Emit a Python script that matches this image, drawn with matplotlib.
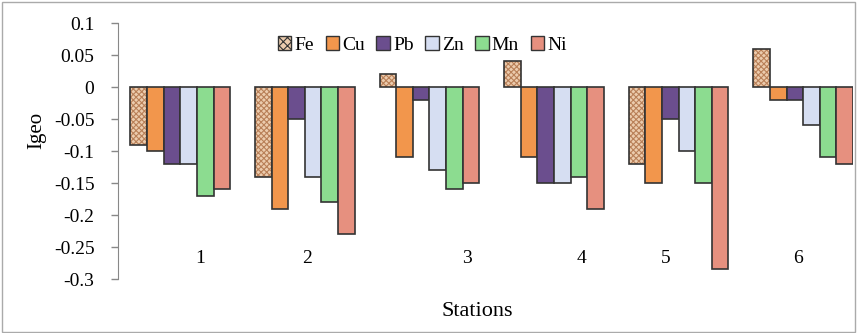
import numpy as np
import matplotlib
matplotlib.use("Agg")
import matplotlib.pyplot as plt
from matplotlib.patches import Rectangle, Patch

plt.rcParams['font.family'] = ['Liberation Serif', 'DejaVu Serif']
plt.rcParams['hatch.linewidth'] = 0.8

# %% data
stations = ["1", "2", "3", "4", "5", "6"]
metals = ["Fe", "Cu", "Pb", "Zn", "Mn", "Ni"]
Fe = [-0.09, -0.14, 0.02, 0.04, -0.12, 0.06]
Cu = [-0.10, -0.19, -0.11, -0.11, -0.15, -0.02]
Pb = [-0.12, -0.05, -0.02, -0.15, -0.05, -0.02]
Zn = [-0.12, -0.14, -0.13, -0.15, -0.10, -0.06]
Mn = [-0.17, -0.18, -0.16, -0.14, -0.15, -0.11]
Ni = [-0.16, -0.23, -0.15, -0.19, -0.285, -0.12]
# station labels sit off-centre in the original
label_shift = [0.16, 0.02, 0.30, 0.22, -0.10, -0.04]

colors = {"Fe": "#ecccae", "Cu": "#f2964c", "Pb": "#6b4e8e",
          "Zn": "#d6def2", "Mn": "#8cdc90", "Ni": "#e6907f"}
series = {"Fe": Fe, "Cu": Cu, "Pb": Pb, "Zn": Zn, "Mn": Mn, "Ni": Ni}

# %% plot
fig = plt.figure(figsize=(8.58, 3.33), dpi=100)
ax = fig.add_axes([118/858, 1-279/333, (853-118)/858, (279-23)/333])

x = np.arange(len(stations))
w = 0.8 / len(metals)
edge = "#333333"
for i, m in enumerate(metals):
    pos = x - 0.4 + w*(i + 0.5)
    if m == "Fe":
        ax.bar(pos, series[m], w, color=colors[m], edgecolor="#b98058",
               hatch="xxxxxx", linewidth=0)
        ax.bar(pos, series[m], w, fill=False, edgecolor=edge, linewidth=1.2)
    else:
        ax.bar(pos, series[m], w, color=colors[m], edgecolor=edge, linewidth=1.2)

for xi, s, d in zip(x, stations, label_shift):
    ax.text(xi + d, -0.268, s, ha="center", va="center", fontsize=14)

ax.set_xlim(-0.5, 5.4)
ax.set_ylim(-0.3, 0.1)
ax.set_yticks(np.arange(-0.3, 0.101, 0.05))
ax.set_yticklabels(["-0.3", "-0.25", "-0.2", "-0.15", "-0.1", "-0.05", "0", "0.05", "0.1"])
ax.tick_params(axis="y", labelsize=14, color="#888888", length=5, width=1, pad=12)
ax.set_xticks([])
for sp in ["top", "right", "bottom"]:
    ax.spines[sp].set_visible(False)
ax.spines["left"].set_color("#888888")

ax.set_ylabel("Igeo", fontsize=15, labelpad=0)
ax.yaxis.set_label_coords(-0.097, 0.58)
fig.text(477/858, 1-312/333, "Stations", ha="center", va="center", fontsize=16)

handles = []
for m in metals:
    if m == "Fe":
        handles.append(Patch(facecolor=colors[m], edgecolor=edge, hatch="xxxx", linewidth=1))
    else:
        handles.append(Patch(facecolor=colors[m], edgecolor=edge, linewidth=1))
ax.legend(handles, metals, loc="center", bbox_to_anchor=(0.414, 0.914), ncol=6,
          frameon=False, fontsize=14, handlelength=0.7, handleheight=0.7,
          handletextpad=0.15, columnspacing=0.6)

fig.patches.append(Rectangle((0.002, 0.004), 0.995, 0.99, transform=fig.transFigure,
                             fill=False, edgecolor="#aaaaaa", linewidth=1))

fig.savefig("out.png", dpi=100)
